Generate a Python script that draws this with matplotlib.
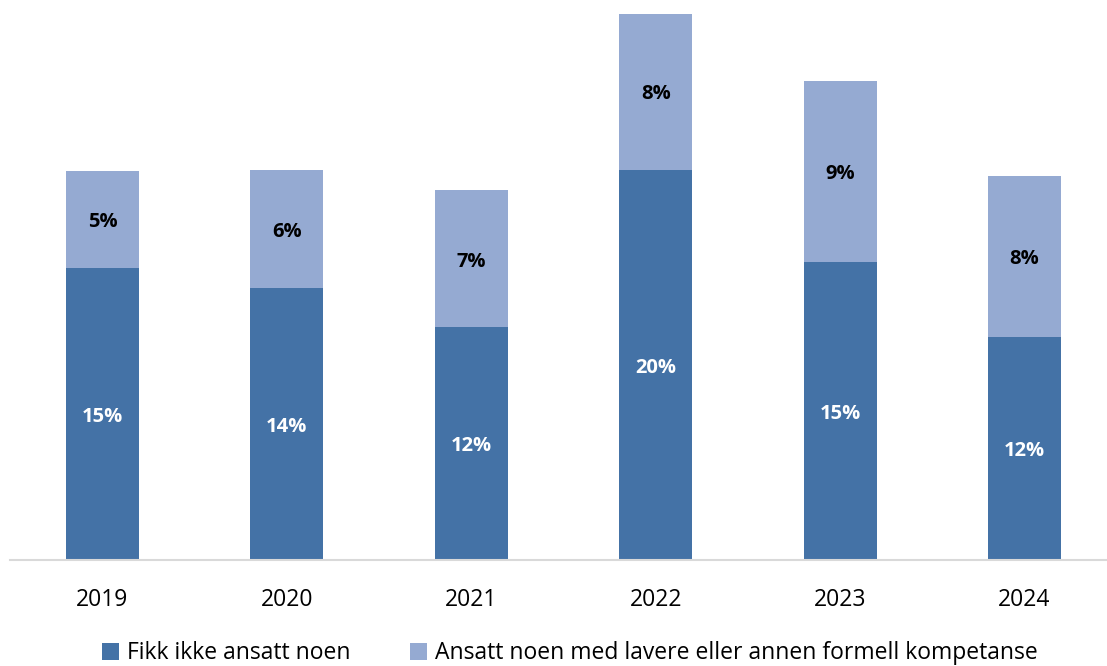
import matplotlib.pyplot as plt
import numpy as np

years = ["2019", "2020", "2021", "2022", "2023", "2024"]
# share of firms (%)
fikk_ikke = [14.97, 13.95, 11.95, 20.0, 15.28, 11.44]
ansatt_lavere = [5.0, 6.05, 7.0, 8.05, 9.3, 8.26]
# labels as printed on the chart
fikk_ikke_lbl = ["15%", "14%", "12%", "20%", "15%", "12%"]
ansatt_lavere_lbl = ["5%", "6%", "7%", "8%", "9%", "8%"]
series_names = ["Fikk ikke ansatt noen",
                "Ansatt noen med lavere eller annen formell kompetanse"]

dark = "#4472A6"
light = "#95AAD2"

plt.rcParams['font.family'] = ['Open Sans', 'DejaVu Sans']

fig = plt.figure(figsize=(11.07, 6.66), dpi=100)
ax = fig.add_axes([0.0093, 0.159, 0.9995, 0.82])

x = np.arange(len(years))
w = 0.396
b1 = ax.bar(x, fikk_ikke, w, color=dark, label=series_names[0])
b2 = ax.bar(x, ansatt_lavere, w, bottom=fikk_ikke, color=light, label=series_names[1])

for i in range(len(years)):
    ax.text(x[i], fikk_ikke[i] / 2 - 0.15, fikk_ikke_lbl[i], ha='center', va='center',
            color='white', fontsize=14.5, fontweight='bold')
    ax.text(x[i], fikk_ikke[i] + ansatt_lavere[i] / 2 - 0.15, ansatt_lavere_lbl[i],
            ha='center', va='center', color='black', fontsize=14.5, fontweight='bold')

ax.set_xlim(-0.5, 5.5)
ax.set_ylim(0, 28)
ax.set_xticks(x)
ax.set_xticklabels(years, fontsize=16.5)
ax.tick_params(axis='x', length=0, pad=20)
ax.set_yticks([])
for s in ['top', 'right', 'left']:
    ax.spines[s].set_visible(False)
ax.spines['bottom'].set_color('#D9D9D9')
ax.spines['bottom'].set_linewidth(1.5)

fig.legend(handles=[b1, b2], loc='center', bbox_to_anchor=(0.515, 0.019),
           ncol=2, frameon=False, fontsize=16.5, handlelength=0.75,
           handleheight=0.75, handletextpad=0.35, columnspacing=2.6,
           borderaxespad=0)

fig.savefig("out.png", dpi=100)
